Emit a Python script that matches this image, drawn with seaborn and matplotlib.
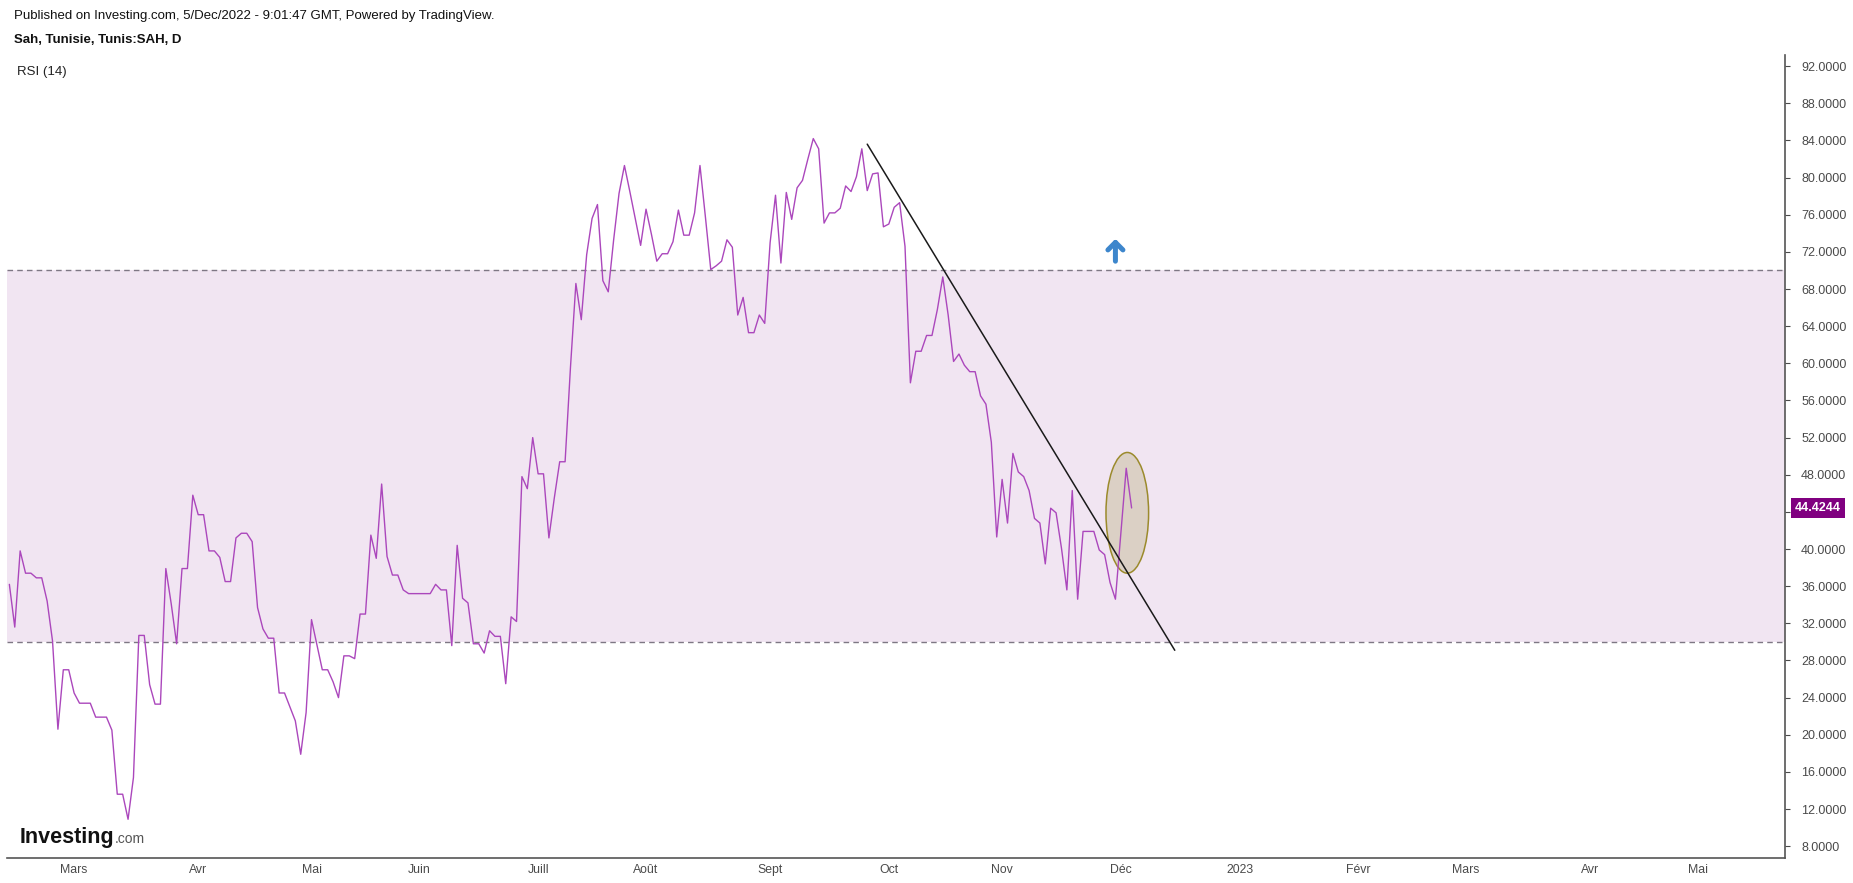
import matplotlib
matplotlib.use('Agg')
import matplotlib.pyplot as plt
from matplotlib.patches import Ellipse
import numpy as np
import pandas as pd
import seaborn as sns

# Trading calendar (Tunis exchange, weekdays minus 2022 holidays)
first_date = '2022-02-11'
last_date = '2022-12-05'
calendar_end = '2023-06-30'
holidays = ['2022-05-02', '2022-05-03', '2022-07-25']

# RSI(14), one value per trading day from first_date to last_date
rsi_values = [
    36.2, 31.6, 39.8, 37.4, 37.4, 36.9, 36.9, 34.4, 30.1, 20.6,
    27.0, 27.0, 24.5, 23.4, 23.4, 23.4, 21.9, 21.9, 21.9, 20.5,
    13.6, 13.6, 10.9, 15.4, 30.7, 30.7, 25.4, 23.3, 23.3, 37.9,
    34.1, 29.8, 37.9, 37.9, 45.8, 43.7, 43.7, 39.8, 39.8, 39.1,
    36.5, 36.5, 41.2, 41.7, 41.7, 40.8, 33.7, 31.4, 30.4, 30.4,
    24.5, 24.5, 23.0, 21.5, 17.9, 22.4, 32.4, 29.7, 27.0, 27.0,
    25.7, 24.0, 28.5, 28.5, 28.2, 33.0, 33.0, 41.5, 39.0, 47.0,
    39.2, 37.2, 37.2, 35.6, 35.2, 35.2, 35.2, 35.2, 35.2, 36.2,
    35.6, 35.6, 29.6, 40.4, 34.7, 34.2, 29.8, 29.8, 28.8, 31.2,
    30.6, 30.6, 25.5, 32.7, 32.2, 47.8, 46.5, 52.0, 48.1, 48.1,
    41.2, 45.5, 49.4, 49.4, 59.6, 68.6, 64.7, 71.7, 75.6, 77.1,
    68.9, 67.7, 73.3, 78.3, 81.3, 78.5, 75.6, 72.7, 76.6, 73.9,
    71.0, 71.8, 71.8, 73.1, 76.5, 73.8, 73.8, 76.2, 81.3, 75.8,
    70.1, 70.5, 71.0, 73.3, 72.5, 65.2, 67.1, 63.3, 63.3, 65.2,
    64.3, 73.0, 78.1, 70.8, 78.4, 75.5, 78.9, 79.7, 82.0, 84.2,
    83.1, 75.1, 76.2, 76.2, 76.7, 79.1, 78.5, 80.1, 83.1, 78.6,
    80.4, 80.5, 74.7, 75.0, 76.8, 77.3, 72.6, 57.9, 61.3, 61.3,
    63.0, 63.0, 65.8, 69.3, 65.2, 60.2, 61.0, 59.8, 59.1, 59.1,
    56.5, 55.6, 51.5, 41.3, 47.5, 42.8, 50.3, 48.3, 47.8, 46.3,
    43.3, 42.8, 38.4, 44.4, 43.9, 40.1, 35.6, 46.3, 34.6, 41.9,
    41.9, 41.9, 39.9, 39.4, 36.4, 34.6, 41.6, 48.7, 44.4244,
]

month_starts = ['2022-03-01', '2022-04-01', '2022-05-01', '2022-06-01', '2022-07-01',
                '2022-08-01', '2022-09-01', '2022-10-01', '2022-11-01', '2022-12-01',
                '2023-01-01', '2023-02-01', '2023-03-01', '2023-04-01', '2023-05-01']
month_labels = ['Mars', 'Avr', 'Mai', 'Juin', 'Juill', 'Août', 'Sept', 'Oct', 'Nov',
                'Déc', '2023', 'Févr', 'Mars', 'Avr', 'Mai']
y_ticks = list(range(8, 93, 4))

# Drawn annotations
trend_dates = ['2022-09-27', '2022-12-15']
trend_values = [83.6, 29.1]
ellipse_date = '2022-12-02'
ellipse_value = 43.9
arrow_date = '2022-11-30'
arrow_values = [71.0, 73.4]

days = pd.bdate_range(first_date, calendar_end)
days = days[~days.isin(pd.to_datetime(holidays))]


def bar_of(d):
    return int(days.searchsorted(pd.Timestamp(d)))


data_days = days[days <= pd.Timestamp(last_date)]
df = pd.DataFrame({'bar': np.arange(len(data_days)), 'rsi': rsi_values[:len(data_days)]})
last_value = rsi_values[-1]

sns.set_theme(style='white')
plt.rcParams['font.family'] = ['Liberation Sans', 'DejaVu Sans']

fig = plt.figure(figsize=(18.53, 8.83), dpi=100)
ax = fig.add_axes([0.0038, 0.0283, 0.9595, 0.9094])

ax.axhspan(30, 70, color='#f1e5f2', lw=0, zorder=0)
for lvl in (30, 70):
    ax.axhline(lvl, color='#7e7784', lw=1, ls=(0, (4, 3)), zorder=1)

sns.lineplot(data=df, x='bar', y='rsi', color='#ab47bc', lw=1.0, estimator=None, ax=ax, zorder=3)

# trend line
tb = [bar_of(d) for d in trend_dates]
ax.plot(tb, trend_values, color='#1a1a1a', lw=1.1, zorder=4)

# highlight ellipse
ax.add_patch(Ellipse((bar_of(ellipse_date) + 0.2, ellipse_value), width=7.9, height=13.0,
                     facecolor='#dbd0c5', edgecolor='#9b8a2c', lw=1.1, zorder=2))

# blue arrow
ab = bar_of(arrow_date)
ax.annotate('', xy=(ab, arrow_values[1]), xytext=(ab, arrow_values[0]),
            arrowprops=dict(arrowstyle='->,head_length=0.45,head_width=0.45',
                            color='#3d86cc', lw=3.6, shrinkA=0, shrinkB=0), zorder=5)

ax.set_xlim(-0.43, 329.1)
ax.set_ylim(6.73, 93.2)
ax.set_xlabel('')
ax.set_ylabel('')

ax.set_xticks([bar_of(d) for d in month_starts])
ax.set_xticklabels(month_labels)
ax.yaxis.tick_right()
ax.set_yticks(y_ticks)
# the last-value tag covers the nearest tick label
ax.set_yticklabels(['' if abs(v - last_value) < 2 else f'{v:.4f}' for v in y_ticks])
ax.tick_params(axis='y', length=3.6, width=0.8, pad=8, labelsize=9, colors='#4a4a4a')
ax.tick_params(axis='x', length=3, width=0.8, pad=1.5, labelsize=8.8, colors='#4a4a4a')
for side in ('left', 'top'):
    ax.spines[side].set_visible(False)
for side in ('right', 'bottom'):
    ax.spines[side].set_color('#555555')
    ax.spines[side].set_linewidth(1.2)

# last value label
ax.annotate(f'{last_value:.4f}', xy=(1, last_value), xycoords=('axes fraction', 'data'),
            xytext=(10, 0), textcoords='offset pixels', ha='left', va='center',
            color='white', fontsize=9, fontweight='bold',
            bbox=dict(boxstyle='square,pad=0.3', facecolor='#800080', edgecolor='none'))

W, H = 1853, 883
fig.text(14 / W, 1 - 16.5 / H, 'Published on Investing.com, 5/Dec/2022 - 9:01:47 GMT, Powered by TradingView.',
         fontsize=9.5, va='center', ha='left', color='#111111')
fig.text(14 / W, 1 - 40 / H, 'Sah, Tunisie, Tunis:SAH, D', fontsize=9.5, fontweight='bold',
         va='center', ha='left', color='#111111')
fig.text(17 / W, 1 - 72 / H, 'RSI (14)', fontsize=9.5, va='center', ha='left', color='#222222')

logo = fig.text(20 / W, 1 - 843 / H, 'Investing', fontsize=15.5, fontweight='bold',
                va='baseline', ha='left', color='#111111')
ax.annotate('.com', xy=(1, 0), xycoords=logo, xytext=(0, 2), textcoords='offset pixels',
            fontsize=10, va='bottom', ha='left', color='#555555')

fig.savefig('out.png', dpi=100, facecolor='white')
